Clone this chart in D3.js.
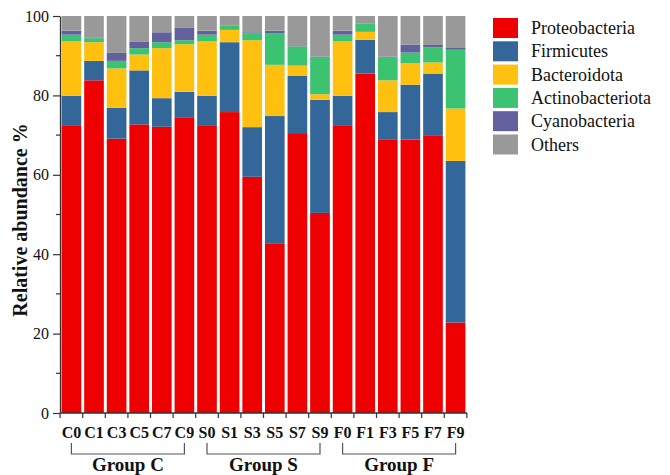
<!DOCTYPE html>
<html>
<head>
<meta charset="utf-8">
<script src="https://cdn.jsdelivr.net/npm/d3@7"></script>
<style>
  html, body { margin: 0; padding: 0; background: #fff; }
  svg { display: block; }
</style>
</head>
<body>
<svg id="chart" width="670" height="475"></svg>
<script>
// ---- data ----
const samples = ["C0","C1","C3","C5","C7","C9","S0","S1","S3","S5","S7","S9","F0","F1","F3","F5","F7","F9"];
const phyla = ["Proteobacteria","Firmicutes","Bacteroidota","Actinobacteriota","Cyanobacteria","Others"];
const proteobacteria   = [72.5,83.8,69.1,72.7,72.1,74.5, 72.5,75.8,59.5,42.6,70.5,50.4, 72.5,85.5,68.8,68.9,69.8,22.8];
const firmicutes       = [ 7.4, 4.9, 7.8,13.6, 7.2, 6.4,  7.4,17.6,12.5,32.2,14.4,28.5,  7.4, 8.5, 7.0,13.8,15.7,40.7];
const bacteroidota     = [13.7, 4.7, 9.9, 4.0,12.6,12.0, 13.7, 3.1,21.9,12.9, 2.6, 1.4, 13.7, 2.0, 8.0, 5.4, 2.8,13.2];
const actinobacteriota = [ 1.7, 1.0, 1.9, 1.6, 1.5, 1.0,  1.7, 1.0, 1.7, 8.0, 4.8, 9.4,  1.7, 2.0, 5.9, 2.7, 3.8,14.8];
const cyanobacteria    = [ 1.0, 0.1, 2.0, 1.7, 2.5, 3.1,  1.0, 0.1, 0.3, 0.6, 0.1, 0.1,  1.0, 0.1, 0.1, 2.0, 0.6, 0.6];
const others           = [ 3.7, 5.5, 9.3, 6.4, 4.1, 3.0,  3.7, 2.4, 4.1, 3.7, 7.6,10.2,  3.7, 1.9,10.2, 7.2, 7.3, 7.9];
const groups = [
  {label: "Group C", from: "C0", to: "C9"},
  {label: "Group S", from: "S0", to: "S9"},
  {label: "Group F", from: "F0", to: "F9"}
];
const yTicks = [0,20,40,60,80,100];
const yMinorTicks = [10,30,50,70,90];
const colors = ["#EE0000","#336699","#FFC010","#3CC372","#63609E","#999999"];

// ---- build table ----
const seriesArrays = [proteobacteria, firmicutes, bacteroidota, actinobacteriota, cyanobacteria, others];
const table = samples.map((s, i) => {
  const row = {sample: s};
  phyla.forEach((p, j) => row[p] = seriesArrays[j][i]);
  return row;
});

const svg = d3.select("#chart");
const serif = "'Liberation Serif','Times New Roman',serif";

const x = d3.scaleBand().domain(samples).range([60, 467]).paddingInner(0.13).paddingOuter(0.07);
const y = d3.scaleLinear().domain([0, 100]).range([413, 16]);
const color = d3.scaleOrdinal().domain(phyla).range(colors);

const stacked = d3.stack().keys(phyla)(table);

// bars
svg.append("g").selectAll("g").data(stacked).join("g")
  .attr("fill", d => color(d.key))
  .selectAll("rect").data(d => d).join("rect")
  .attr("x", d => x(d.data.sample))
  .attr("width", x.bandwidth())
  .attr("y", d => y(d[1]))
  .attr("height", d => Math.max(0, y(d[0]) - y(d[1])));

// y axis
const yAxis = svg.append("g").attr("transform", "translate(60,0)")
  .call(d3.axisLeft(y).tickValues(yTicks).tickSize(7).tickPadding(4).tickSizeOuter(0));
yAxis.select(".domain").attr("stroke", "#333").attr("stroke-width", 1.3);
yAxis.selectAll(".tick line").attr("stroke", "#333").attr("stroke-width", 1.2);
yAxis.selectAll("text").attr("font-family", serif).attr("font-size", 16).attr("fill", "#111");
svg.append("g").attr("transform", "translate(60,0)")
  .selectAll("line").data(yMinorTicks).join("line")
  .attr("x1", -4).attr("x2", 0)
  .attr("y1", d => y(d)).attr("y2", d => y(d))
  .attr("stroke", "#333").attr("stroke-width", 1.2);

// x axis
const xAxisY = 413;
svg.append("line").attr("x1", 60).attr("x2", 467).attr("y1", xAxisY).attr("y2", xAxisY)
  .attr("stroke", "#333").attr("stroke-width", 1.3);
const step = x.step();
const boundaries = samples.map(s => x(s) - (step - x.bandwidth()) / 2);
boundaries.push(x(samples[samples.length - 1]) + x.bandwidth() + (step - x.bandwidth()) / 2);
svg.append("g").selectAll("line").data(boundaries).join("line")
  .attr("x1", d => d).attr("x2", d => d)
  .attr("y1", xAxisY).attr("y2", xAxisY + 5)
  .attr("stroke", "#333").attr("stroke-width", 1.2);
svg.append("g").selectAll("text").data(samples).join("text")
  .attr("x", d => x(d) + x.bandwidth() / 2)
  .attr("y", 438)
  .attr("text-anchor", "middle")
  .attr("font-family", serif).attr("font-weight", "bold").attr("font-size", 16)
  .attr("fill", "#111")
  .text(d => d);

// group brackets
const gb = svg.append("g");
groups.forEach(g => {
  const x1 = x(g.from) + x.bandwidth() / 2;
  const x2 = x(g.to) + x.bandwidth() / 2;
  gb.append("path")
    .attr("d", `M${x1},443V454H${x2}V443`)
    .attr("fill", "none").attr("stroke", "#555").attr("stroke-width", 1.2);
  gb.append("text")
    .attr("x", (x1 + x2) / 2).attr("y", 471)
    .attr("text-anchor", "middle")
    .attr("font-family", serif).attr("font-weight", "bold").attr("font-size", 19)
    .attr("fill", "#111")
    .text(g.label);
});

// y title
svg.append("text")
  .attr("transform", "translate(27,220) rotate(-90)")
  .attr("text-anchor", "middle")
  .attr("font-family", serif).attr("font-weight", "bold").attr("font-size", 20)
  .attr("fill", "#111")
  .text("Relative abundance %");

// legend
const legend = svg.append("g").attr("transform", "translate(493,18)");
const li = legend.selectAll("g").data(phyla).join("g")
  .attr("transform", (d, i) => `translate(0,${i * 23.3})`);
li.append("rect").attr("width", 25).attr("height", 20).attr("fill", d => color(d));
li.append("text").attr("x", 38).attr("y", 16)
  .attr("font-family", serif).attr("font-size", 18).attr("fill", "#111")
  .text(d => d);
</script>
</body>
</html>
